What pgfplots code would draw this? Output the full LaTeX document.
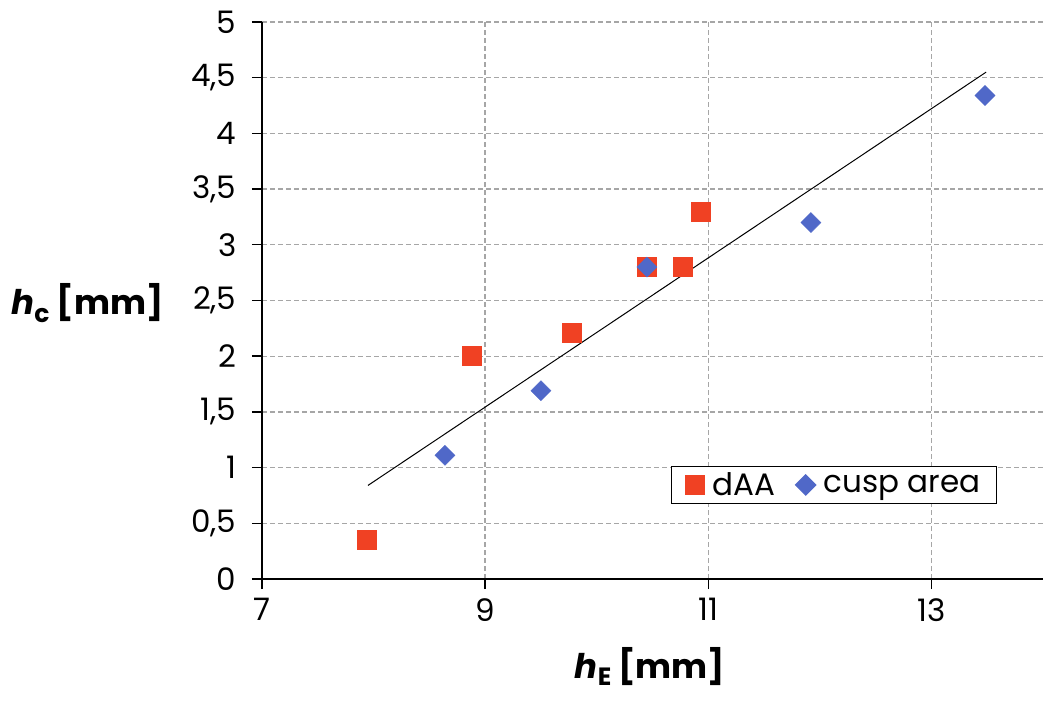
\documentclass[border=0pt]{standalone}
\usepackage{pgfplots}
\pgfplotsset{compat=1.18}
\usepackage{fontspec}
\setmainfont{Poppins}
\definecolor{dred}{RGB}{240,65,35}
\definecolor{cblue}{RGB}{80,104,200}
\newcommand{\sub}[1]{\raisebox{-0.22em}{\fontsize{25}{25}\selectfont #1}}
\begin{document}
\begin{tikzpicture}
\begin{axis}[
  name=ax,
  at={(0,0)}, anchor=south west,
  scale only axis,
  width=781pt, height=557pt,
  xmin=7, xmax=14, ymin=0, ymax=5,
  xtick={7,9,11,13},
  ytick={0,0.5,1,1.5,2,2.5,3,3.5,4,4.5,5},
  axis x line=bottom, axis y line=left,
  axis line style={-, line width=1.4pt, black},
  tick style={line width=1.4pt, black},
  tick align=outside, major tick length=10pt,
  grid=major,
  major grid style={dash pattern=on 5pt off 3pt, gray!70, line width=1.3pt},
  /pgf/number format/assume math mode=true,
  /pgf/number format/use comma,
  ticklabel style={font=\fontsize{31}{34}\selectfont},
  yticklabel style={/pgf/number format/fixed, /pgf/number format/precision=1, xshift=-12pt},
  xticklabel style={yshift=-6pt},
  every axis y label/.style={at={(rel axis cs:0,0.495)}, anchor=east, xshift=-95pt},
  every axis x label/.style={at={(rel axis cs:0.497,0)}, anchor=base, yshift=-99pt},
  label style={font=\fontsize{34}{38}\selectfont\bfseries},
  ylabel={\textit{h}\sub{c} [mm]},
  xlabel={\textit{h}\sub{E} [mm]},
  legend style={at={(rel axis cs:0.524,0.135)}, anchor=south west,
    draw=black, line width=1.2pt, font=\fontsize{31}{34}\selectfont,
    legend columns=2, inner xsep=14pt, inner ysep=4pt,
    /tikz/every odd column/.append style={column sep=6pt},
    /tikz/every even column/.append style={column sep=18pt}},
  legend cell align=left,
  clip=false,
]
\addplot[only marks, mark=square*, mark size=9.5pt, color=dred, mark options={draw=none, fill=dred}]
  coordinates {(7.94,0.35) (8.88,2.0) (9.78,2.21) (10.45,2.80) (10.77,2.80) (10.93,3.30)};
\addlegendentry{dAA}
\addplot[only marks, mark=square*, mark size=7.1pt, color=cblue, mark options={draw=none, fill=cblue, rotate=45}]
  coordinates {(8.64,1.11) (9.50,1.69) (10.45,2.80) (11.92,3.20) (13.48,4.34)};
\addlegendentry{cusp area}
\addplot[black, line width=1pt, forget plot] coordinates {(7.95,0.84) (13.49,4.55)};
\end{axis}
\pgfresetboundingbox
\path ([shift={(-262pt,-122pt)}]ax.south west) rectangle ([shift={(0pt,22pt)}]ax.north east);
\end{tikzpicture}
\end{document}
